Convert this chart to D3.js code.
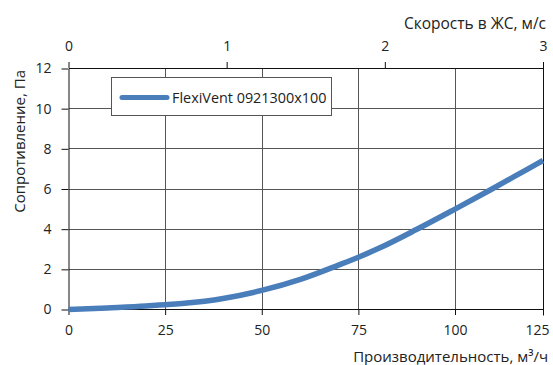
<!DOCTYPE html>
<html><head><meta charset="utf-8">
<script src="https://cdnjs.cloudflare.com/ajax/libs/d3/7.8.5/d3.min.js"></script>
<style>
body{margin:0;background:#fff;}
text{font-family:"Open Sans",sans-serif;fill:#222;}
</style></head>
<body>
<svg id="chart" width="553" height="365"></svg>
<script>
// Data
const flow = [0, 10, 20, 25, 30, 40, 50, 60, 70, 75, 80, 90, 100, 110, 120, 125];
const resistance = [0, 0.08, 0.17, 0.24, 0.31, 0.55, 0.95, 1.5, 2.22, 2.6, 3.02, 3.98, 5.0, 5.95, 6.93, 7.42];
const flowTicks = [0, 25, 50, 75, 100, 125];
const speedTicks = [0, 1, 2, 3];
const resTicks = [0, 2, 4, 6, 8, 10, 12];
const seriesName = "FlexiVent 0921300x100";
const xTitle = "Производительность, м³/ч";
const topTitle = "Скорость в ЖС, м/с";
const yTitle = "Сопротивление, Па";

const svg = d3.select("#chart");
const L = 69, R = 543, T = 68.5, B = 309.5;
const x = d3.scaleLinear().domain([0, 100, 125]).range([L - 0.5, 455, R]);
const xTop = d3.scaleLinear().domain([0, 3]).range([L - 0.5, R]);
const y = d3.scaleLinear().domain([0, 12]).range([B, T]);
const px = v => Math.round(v) + 0.5;

// grid
const g = svg.append("g");
g.selectAll("line.h").data(resTicks.slice(1, -1)).join("line")
  .attr("x1", L).attr("x2", R).attr("y1", d => px(y(d) - 0.5)).attr("y2", d => px(y(d) - 0.5))
  .attr("stroke", "#555").attr("stroke-width", 1);
g.selectAll("line.v").data(flowTicks.slice(1, -1)).join("line")
  .attr("x1", d => px(x(d))).attr("x2", d => px(x(d))).attr("y1", T).attr("y2", B)
  .attr("stroke", "#555").attr("stroke-width", 1);

// axes
const fs = "14px";
const ax = svg.append("g").attr("transform", `translate(0,${B - 0.5})`)
  .call(d3.axisBottom(x).tickValues(flowTicks).tickSize(6).tickSizeOuter(0).tickPadding(10).offset(0.5));
const at = svg.append("g").attr("transform", `translate(0,${T - 0.5})`)
  .call(d3.axisTop(xTop).tickValues(speedTicks).tickSize(6).tickSizeOuter(0).tickPadding(11).tickFormat(d3.format("d")).offset(0.5));
const al = svg.append("g").attr("transform", `translate(${L - 0.5},0)`)
  .call(d3.axisLeft(y).tickValues(resTicks).tickSize(7).tickSizeOuter(0).tickPadding(10).offset(0.5));
// right border
svg.append("line").attr("x1", px(R - 0.5)).attr("x2", px(R - 0.5)).attr("y1", T - 6).attr("y2", B + 6)
  .attr("stroke", "#111");
[ax, at, al].forEach(a => {
  a.selectAll("path.domain").attr("stroke", "#111");
  a.selectAll(".tick line").attr("stroke", "#111");
  a.selectAll("text").style("font-size", fs).style("font-family", "'Open Sans',sans-serif").attr("fill", "#222");
});
// keep the last bottom label inside the picture, as in the reference
ax.selectAll(".tick text").filter(d => d === flowTicks[flowTicks.length - 1])
  .attr("text-anchor", "end").attr("x", 6);

// line
svg.append("path").datum(flow.map((f, i) => [f, resistance[i]]))
  .attr("fill", "none").attr("stroke", "#4a7ebb").attr("stroke-width", 5.5)
  .attr("stroke-linecap", "butt")
  .attr("d", d3.line().x(d => x(d[0])).y(d => y(d[1])).curve(d3.curveMonotoneX));

// legend
const lg = svg.append("g");
lg.append("rect").attr("x", 111.5).attr("y", 77.5).attr("width", 220).attr("height", 38)
  .attr("fill", "#fff").attr("stroke", "#555");
lg.append("line").attr("x1", 122).attr("x2", 167).attr("y1", 97.5).attr("y2", 97.5)
  .attr("stroke", "#4a7ebb").attr("stroke-width", 5).attr("stroke-linecap", "round");
lg.append("text").attr("x", 172).attr("y", 102.5).style("font-size", "14.4px").text(seriesName);

// titles
svg.append("text").attr("x", 548).attr("y", 362).attr("text-anchor", "end").style("font-size", "15px").text(xTitle);
svg.append("text").attr("x", 546).attr("y", 29).attr("text-anchor", "end").style("font-size", "15.5px").text(topTitle);
svg.append("text").attr("transform", "translate(25,70) rotate(-90)").attr("text-anchor", "end").style("font-size", "15px").text(yTitle);
</script>
</body></html>
